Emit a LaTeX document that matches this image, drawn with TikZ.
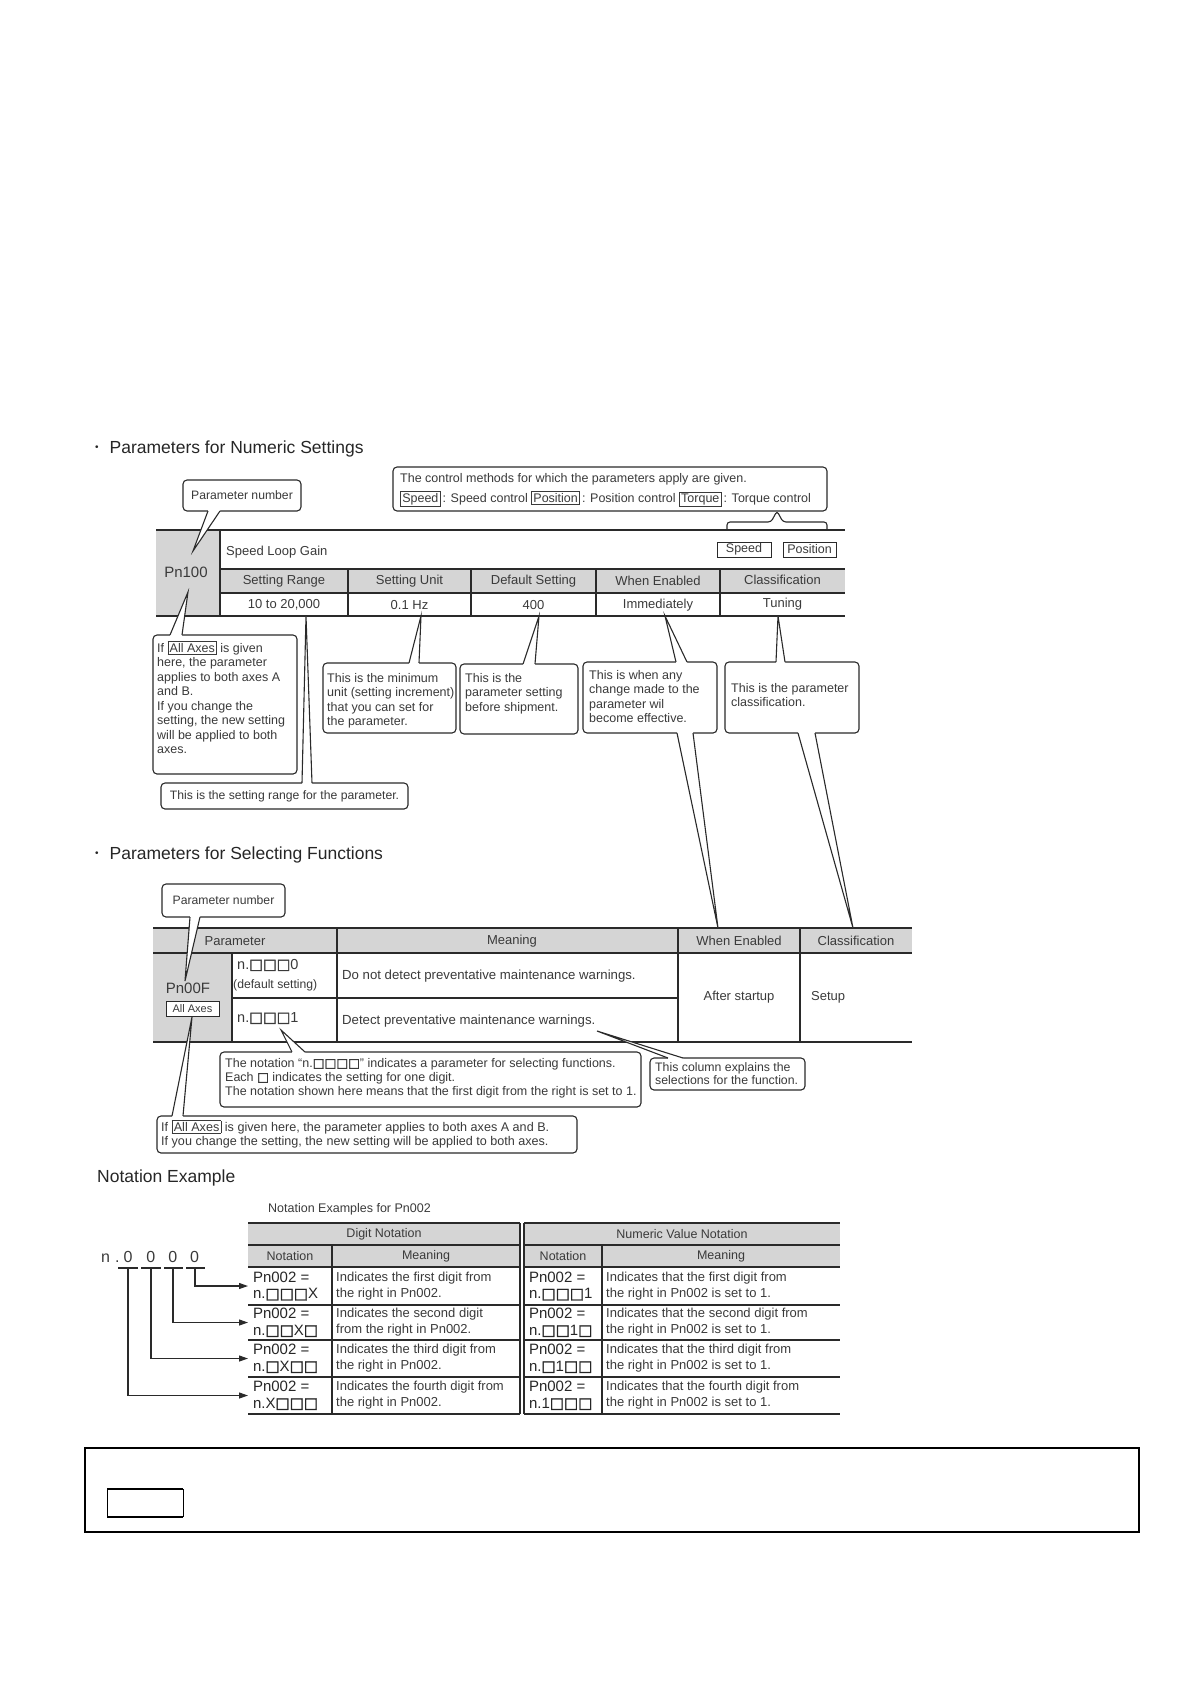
\documentclass[tikz,border=0pt]{standalone}
\usepackage{fontspec}
\setmainfont{Liberation Sans}
\newfontfamily\symf[FakeBold=2]{DejaVu Sans}
\usetikzlibrary{arrows.meta,fit}
\definecolor{txt}{HTML}{3A3A3A}
\definecolor{lc}{HTML}{2A2A2A}
\definecolor{cg}{HTML}{D5D5D5}
\newcommand\sq{{\symf □}}
\newcommand\bul{\raisebox{3pt}{\fontsize{10}{10}\selectfont •}}
\newcommand\tagb[1]{{\setlength\fboxsep{1.2pt}\setlength\fboxrule{0.9pt}\fbox{#1}}}
% #1 box, #2 north|south, #3 dx1, #4 dx2, #5 tip, #6 inward yshift
\newcommand\callptr[6]{%
  \fill[white] ([xshift=#3pt]#1.#2 west) -- (#5) -- ([xshift=#4pt]#1.#2 west)
     -- ([xshift=#4pt,yshift=#6pt]#1.#2 west) -- ([xshift=#3pt,yshift=#6pt]#1.#2 west) -- cycle;
  \draw[ptr] ([xshift=#3pt]#1.#2 west) -- (#5) -- ([xshift=#4pt]#1.#2 west);}
\begin{document}
\begin{tikzpicture}[x=1pt,y=-1pt,
  cbox/.style={draw=lc, line width=1.1pt, rounded corners=4pt, fill=white, inner sep=0pt, outer sep=0pt},
  ptr/.style={draw=lc, line width=1.1pt, line join=miter},
  ct/.style={text=txt, font=\fontsize{12.5}{14.5}\selectfont, align=left, inner sep=0pt, anchor=north west},
  ctc/.style={text=txt, font=\fontsize{12.2}{14.5}\selectfont, inner sep=0pt},
  tl/.style={draw=lc, line width=1.2pt},
  th/.style={text=txt, font=\fontsize{13}{15}\selectfont, inner sep=0pt},
  hd/.style={text=black!85, font=\fontsize{17.5}{20}\selectfont, inner sep=0pt, anchor=base west},
  tagn/.style={draw=lc, line width=0.9pt, fill=white, inner sep=0pt, outer sep=0pt, text=txt, font=\fontsize{12.5}{14}\selectfont},
  arr/.style={draw=lc, line width=1.1pt, -{Triangle[length=9pt,width=6pt]}},
  ncell/.style={anchor=west, inner xsep=5pt, inner ysep=0pt, outer sep=0pt, align=left, text=black!85, font=\fontsize{15}{16.5}\selectfont},
  mcell/.style={anchor=west, inner sep=0pt, align=left, text=txt, font=\fontsize{13}{16}\selectfont}
]
\useasboundingbox (0,0) rectangle (1191,1684);

% ================= Section 1 =================
\node[hd] (h1) at (95,453) {\bul\hspace{11pt}Parameters for Numeric Settings};

% table 1
\fill[cg] (156,530) rectangle (220,616);
\fill[cg] (220,569) rectangle (845,593);
\draw[tl] (156,530) -- (845,530);
\draw[tl] (220,569) -- (845,569);
\draw[tl] (220,593) -- (845,593);
\draw[tl] (156,616) -- (845,616);
\draw[tl] (220,530) -- (220,616);
\foreach \x in {348,471,596,720} \draw[tl] (\x,569) -- (\x,616);

\node[th, anchor=west] (slg) at (226,552) {Speed Loop Gain};
\node[th, font=\fontsize{15}{17}\selectfont] (pn100) at (186,572) {Pn100};
\node[th] (hsr) at (284,581) {Setting Range};
\node[th] (hsu) at (409.5,581) {Setting Unit};
\node[th] (hds) at (533.5,581) {Default Setting};
\node[th] (hwe) at (658,581) {When Enabled};
\node[th] (hcl) at (782.5,580) {Classification};
\node[th] (vsr) at (284,605) {10 to 20,000};
\node[th] (vsu) at (409.5,605) {0.1 Hz};
\node[th] (vds) at (533.5,605) {400};
\node[th] (vwe) at (658,605) {Immediately};
\node[th] (vcl) at (782.5,604) {Tuning};

\node[tagn, minimum width=54pt, minimum height=15pt] (tsp) at (744,549.5) {Speed};
\node[tagn, minimum width=53pt, minimum height=15pt] (tpo) at (809.5,549.5) {Position};

% control methods callout
\node[cbox, fit={(393,467)(827,511)}] (ctl) {};
\node[ct, font=\fontsize{12.5}{20}\selectfont] (ctlt) at (400,473) {The control methods for which the parameters apply are given.\\
\tagb{Speed}\,: Speed control \tagb{Position}\,: Position control \tagb{Torque}\,: Torque control};
\coordinate (brtip) at (777,511);
\coordinate (brl) at (727,530);
\coordinate (brr) at (827,530);
\draw[ptr, rounded corners=3pt] (brl) |- (771,522) -- (brtip) -- (783,522) -| (brr);

% parameter number callout 1
\node[cbox, fit={(183,480)(301,511)}] (pn1) {};
\node[ctc] (pn1t) at (pn1.center) {Parameter number};
\coordinate (tip1) at (193,551);
\callptr{pn1}{south}{25}{37}{tip1}{2}

% callouts below table 1
\node[cbox, fit={(153,635)(297,774)}] (cax) {};
\node[ct] (caxt) at (157,641) {If \tagb{All Axes} is given\\ here, the parameter\\ applies to both axes A\\ and B.\\ If you change the\\ setting, the new setting\\ will be applied to both\\ axes.};
\coordinate (tipax) at (188,592);
\callptr{cax}{north}{17}{29}{tipax}{-2}

\node[cbox, fit={(161,783)(408,809)}] (crg) {};
\node[ctc] (crgt) at (crg.center) {This is the setting range for the parameter.};
\coordinate (tiprg) at (306,616);
\callptr{crg}{north}{141}{151}{tiprg}{-2}

\node[cbox, fit={(323,663)(456,733)}] (cun) {};
\node[ct] (cunt) at (327,673) {This is the minimum\\ unit (setting increment)\\ that you can set for\\ the parameter.};
\coordinate (tipun) at (421,616);
\callptr{cun}{north}{86}{96}{tipun}{-2}

\node[cbox, fit={(460,664)(578,734)}] (cdf) {};
\node[ct] (cdft) at (465,673) {This is the\\ parameter setting\\ before shipment.};
\coordinate (tipdf) at (539,616);
\callptr{cdf}{north}{63}{75}{tipdf}{-2}

\node[cbox, fit={(583,662)(717,733)}] (cwe) {};
\node[ct] (cwet) at (589,670) {This is when any\\ change made to the\\ parameter wil\\ become effective.};
\coordinate (tipwe) at (665,616);
\callptr{cwe}{north}{93}{104}{tipwe}{-2}

\node[cbox, fit={(725,662)(859,733)}] (ccl) {};
\node[ct] (cclt) at (731,683) {This is the parameter\\ classification.};
\coordinate (tipcl) at (778,616);
\callptr{ccl}{north}{51}{60}{tipcl}{-2}

% ================= Section 2 =================
\node[hd] (h2) at (95,859) {\bul\hspace{11pt}Parameters for Selecting Functions};

% table 2
\fill[cg] (153,928) rectangle (912,953);
\fill[cg] (153,953) rectangle (232,1042);
\draw[tl] (153,928) -- (912,928);
\draw[tl] (153,953) -- (912,953);
\draw[tl] (232,998) -- (678,998);
\draw[tl] (153,1042) -- (912,1042);
\draw[tl] (232,953) -- (232,1042);
\foreach \x in {337,678,800} \draw[tl] (\x,928) -- (\x,1042);

\node[th] (h2p) at (235,941) {Parameter};
\node[th] (h2m) at (512,941) {Meaning};
\node[th] (h2w) at (739,941) {When Enabled};
\node[th] (h2c) at (856,941) {Classification};
\node[th, font=\fontsize{15}{17}\selectfont] (pn00f) at (188,988) {Pn00F};
\node[tagn, font=\fontsize{11}{12}\selectfont, minimum width=53pt, minimum height=15pt] (aax) at (192.5,1008.5) {All Axes};
\node[th, anchor=west, font=\fontsize{14.5}{16}\selectfont] (o0) at (237,965) {n.\sq\sq\sq 0};
\node[th, anchor=west, font=\fontsize{12.2}{14}\selectfont] (o0d) at (233,985) {(default setting)};
\node[th, anchor=west, font=\fontsize{14.5}{16}\selectfont] (o1) at (237,1018) {n.\sq\sq\sq 1};
\node[th, anchor=west, font=\fontsize{13.2}{14}\selectfont] (m0) at (342,976) {Do not detect preventative maintenance warnings.};
\node[th, anchor=west, font=\fontsize{13.2}{14}\selectfont] (m1) at (342,1021) {Detect preventative maintenance warnings.};
\node[th] (ast) at (739,997) {After startup};
\node[th, anchor=west] (stp) at (811,997) {Setup};

% pointers from the callouts above down to table 2 headers
\coordinate (tipwe2) at (718,928);
\callptr{cwe}{south}{94}{110}{tipwe2}{2}
\coordinate (tipcl2) at (853,928);
\callptr{ccl}{south}{73}{90}{tipcl2}{2}

% parameter number callout 2
\node[cbox, fit={(162,884)(285,917)}] (pn2) {};
\node[ctc] (pn2t) at (pn2.center) {Parameter number};
\coordinate (tip2) at (185,981);
\callptr{pn2}{south}{28}{38}{tip2}{2}

% notation callout
\node[cbox, fit={(220,1052)(641,1107)}] (cnt) {};
\node[ct, font=\fontsize{12.5}{14}\selectfont] (cntt) at (225,1058) {The notation “n.\sq\sq\sq\sq” indicates a parameter for selecting functions.\\ Each \sq\ indicates the setting for one digit.\\ The notation shown here means that the first digit from the right is set to 1.};
\coordinate (tipnt) at (281,1030);
\callptr{cnt}{north}{72}{85}{tipnt}{-2}

% column explanation callout
\node[cbox, fit={(650,1058)(805,1090)}] (ccol) {};
\node[ct, font=\fontsize{12.3}{13.5}\selectfont] (ccolt) at (655,1062) {This column explains the\\ selections for the function.};
\coordinate (tipcol) at (597,1031);
\callptr{ccol}{north}{18}{33}{tipcol}{-2}

% all axes callout 2
\node[cbox, fit={(157,1116)(577,1153)}] (cax2) {};
\node[ct, font=\fontsize{12.6}{14}\selectfont] (cax2t) at (161,1120) {If \tagb{All Axes} is given here, the parameter applies to both axes A and B.\\ If you change the setting, the new setting will be applied to both axes.};
\coordinate (tipax2) at (192,1017);
\callptr{cax2}{north}{15}{26}{tipax2}{-2}

% ================= Notation example =================
\node[hd] (h3) at (97,1182) {Notation Example};
\node[th, anchor=base west, font=\fontsize{12.5}{14}\selectfont] (ncap) at (268,1212) {Notation Examples for Pn002};

\fill[cg] (248,1223) rectangle (520,1267);
\fill[cg] (524,1223) rectangle (840,1267);
\foreach \y in {1245,1267,1305,1340,1377,1414} {
  \draw[tl] (248,\y) -- (520,\y);
  \draw[tl] (524,\y) -- (840,\y);
}
\draw[draw=lc, line width=1.5pt] (248,1223) -- (520,1223);
\draw[draw=lc, line width=1.5pt] (524,1223) -- (840,1223);
\draw[tl] (520,1223) -- (520,1414);
\draw[tl] (524,1223) -- (524,1414);
\draw[tl] (332,1245) -- (332,1414);
\draw[tl] (602,1245) -- (602,1414);

\node[th, font=\fontsize{12.5}{14}\selectfont] (hdn) at (384,1234) {Digit Notation};
\node[th, font=\fontsize{12.5}{14}\selectfont] (hnv) at (682,1234) {Numeric Value Notation};
\node[th, font=\fontsize{12.5}{14}\selectfont] (hn1) at (290,1256) {Notation};
\node[th, font=\fontsize{12.5}{14}\selectfont] (hm1) at (426,1256) {Meaning};
\node[th, font=\fontsize{12.5}{14}\selectfont] (hn2) at (563,1256) {Notation};
\node[th, font=\fontsize{12.5}{14}\selectfont] (hm2) at (721,1256) {Meaning};

\node[ncell] (r1) at (248,1286) {Pn002 =\\ n.\sq\sq\sq X};
\node[ncell] (r2) at (248,1322.5) {Pn002 =\\ n.\sq\sq X\sq};
\node[ncell] (r3) at (248,1358.5) {Pn002 =\\ n.\sq X\sq\sq};
\node[ncell] (r4) at (248,1395.5) {Pn002 =\\ n.X\sq\sq\sq};
\node[mcell] (m1a) at (336,1286) {Indicates the first digit from\\ the right in Pn002.};
\node[mcell] (m2a) at (336,1322.5) {Indicates the second digit\\ from the right in Pn002.};
\node[mcell] (m3a) at (336,1358.5) {Indicates the third digit from\\ the right in Pn002.};
\node[mcell] (m4a) at (336,1395.5) {Indicates the fourth digit from\\ the right in Pn002.};
\node[ncell] (s1) at (524,1286) {Pn002 =\\ n.\sq\sq\sq 1};
\node[ncell] (s2) at (524,1322.5) {Pn002 =\\ n.\sq\sq 1\sq};
\node[ncell] (s3) at (524,1358.5) {Pn002 =\\ n.\sq 1\sq\sq};
\node[ncell] (s4) at (524,1395.5) {Pn002 =\\ n.1\sq\sq\sq};
\node[mcell] (m1b) at (606,1286) {Indicates that the first digit from\\ the right in Pn002 is set to 1.};
\node[mcell] (m2b) at (606,1322.5) {Indicates that the second digit from\\ the right in Pn002 is set to 1.};
\node[mcell] (m3b) at (606,1358.5) {Indicates that the third digit from\\ the right in Pn002 is set to 1.};
\node[mcell] (m4b) at (606,1395.5) {Indicates that the fourth digit from\\ the right in Pn002 is set to 1.};

% n.0000 with underlines and arrows
\node[anchor=base west, inner sep=0pt, text=txt, font=\fontsize{16}{18}\selectfont] (nex) at (101,1262) {n\kern5pt.\kern4pt0\kern14pt0\kern13pt0\kern13pt0};
\coordinate (u1) at (128,1268);
\coordinate (u2) at (151,1268);
\coordinate (u3) at (173,1268);
\coordinate (u4) at (195,1268);
\draw[ptr] (118,1268) -- (138,1268);
\draw[ptr] (141,1268) -- (161,1268);
\draw[ptr] (164,1268) -- (183,1268);
\draw[ptr] (186,1268) -- (205,1268);
\draw[arr] (u4) |- (r1.west);
\draw[arr] (u3) |- (r2.west);
\draw[arr] (u2) |- (r3.west);
\draw[arr] (u1) |- (r4.west);

% ================= bottom frame =================
\draw[draw=black, line width=1.4pt] (85,1448) rectangle (1139,1532);
\draw[draw=black, line width=1.4pt] (107,1489) -- (183,1489);
\draw[draw=black, line width=1.4pt] (107,1517) -- (183,1517);
\draw[draw=black, line width=0.6pt] (107,1489) -- (107,1517);
\draw[draw=black, line width=0.6pt] (183,1489) -- (183,1517);
\end{tikzpicture}
\end{document}
